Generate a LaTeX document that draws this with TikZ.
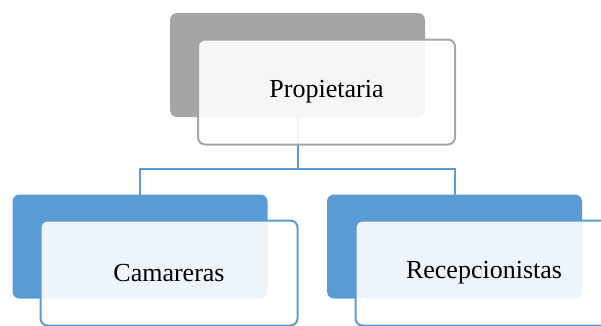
\documentclass[tikz,border=0pt]{standalone}
\usepackage{fontspec}
\setmainfont{Liberation Serif}
\definecolor{grayback}{HTML}{A5A5A5}
\definecolor{blueback}{HTML}{5B9BD5}
\tikzset{
  backbox/.style={rectangle, rounded corners=7pt, minimum width=255pt, minimum height=104pt, inner sep=0pt, outer sep=0pt},
  frontbox/.style={rectangle, rounded corners=7pt, minimum width=257pt, minimum height=105pt, inner sep=0pt, outer sep=0pt, line width=2pt, fill=white, fill opacity=0.9, text opacity=1, font=\fontsize{26}{30}\selectfont},
  conn/.style={draw=blueback, line width=2pt}
}
\begin{document}
\begin{tikzpicture}[x=1pt,y=-1pt]
\clip (0,0) rectangle (601,325);
\node[backbox, fill=grayback] (tb) at (297.5,65) {};
\node[backbox, fill=blueback] (lb) at (140,246.5) {};
\node[backbox, fill=blueback] (rb) at (454.5,246.5) {};
\coordinate (j) at (297.5,169);
\draw[conn] (tb.south) -- (j) -| (lb.north);
\draw[conn] (j) -| (rb.north);
\node[frontbox, draw=grayback] (tf) at (326.5,92) {Propietaria};
\node[frontbox, draw=blueback] (lf) at (169,273) {Camareras};
\node[frontbox, draw=blueback] (rf) at (484,273) {Recepcionistas};
\end{tikzpicture}
\end{document}
